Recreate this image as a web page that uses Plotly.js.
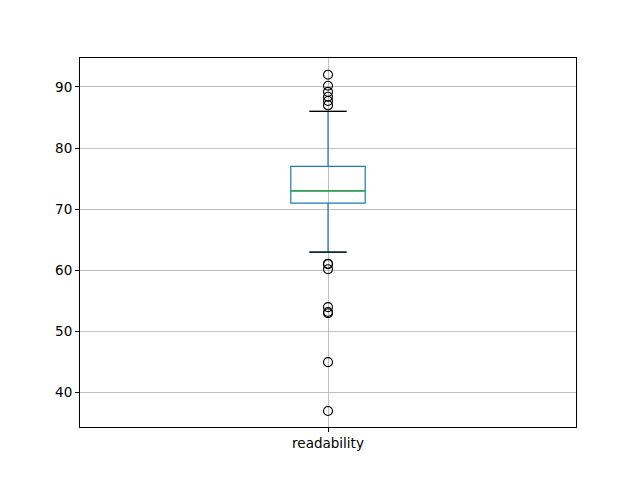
<!DOCTYPE html>
<html><head><meta charset="utf-8">
<script src="https://cdn.plot.ly/plotly-3.0.1.min.js"></script>
<style>body{margin:0;background:#fff}#c{width:640px;height:480px}</style>
</head><body><div id="c"></div>
<script>
const category = ["readability"];
const q1 = [71];
const median = [73];
const q3 = [77];
const lowerWhisker = [63];
const upperWhisker = [86];
const outliers = [92, 90.2, 89.2, 88.4, 87.7, 87.0, 61.1, 61.0, 60.2, 54.0, 53.2, 53.0, 45, 37];

const pos = 1, halfBox = 0.075, halfCap = 0.0375;
const traces = [
  {type:'box', x:[pos], q1:q1, median:median, q3:q3, lowerfence:lowerWhisker, upperfence:upperWhisker,
   width:2*halfBox, whiskerwidth:0.5, line:{color:'#1f77b4', width:1.2}, fillcolor:'rgba(0,0,0,0)',
   boxpoints:false, hoverinfo:'skip', showlegend:false},
  {type:'scatter', mode:'lines', x:[pos-halfBox, pos+halfBox], y:[median[0], median[0]],
   line:{color:'#2ca02c', width:1.2}, showlegend:false, hoverinfo:'skip'},
  {type:'scatter', mode:'lines', x:[pos-halfCap, pos+halfCap, null, pos-halfCap, pos+halfCap],
   y:[lowerWhisker[0], lowerWhisker[0], null, upperWhisker[0], upperWhisker[0]],
   line:{color:'#000', width:1.2}, showlegend:false, hoverinfo:'skip'},
  {type:'scatter', mode:'markers', x:outliers.map(()=>pos), y:outliers,
   marker:{symbol:'circle-open', size:9, color:'#000', line:{width:1.1, color:'#000'}},
   showlegend:false, hoverinfo:'skip'}
];
const layout = {
  width:640, height:480, paper_bgcolor:'#fff', plot_bgcolor:'#fff',
  margin:{l:80, r:64, t:58, b:53},
  font:{family:'DejaVu Sans', size:14, color:'#000'},
  showlegend:false,
  xaxis:{range:[0.5,1.5], tickvals:[pos], ticktext:category, showgrid:true, gridcolor:'#b0b0b0', gridwidth:0.8,
         zeroline:false, showline:true, mirror:true, linecolor:'#000', linewidth:1,
         ticks:'outside', ticklen:4, tickcolor:'#000', tickwidth:1, tickfont:{size:13.5}},
  yaxis:{range:[34.39, 94.74], tickvals:[40,50,60,70,80,90], showgrid:true, gridcolor:'#b0b0b0', gridwidth:0.8,
         zeroline:false, showline:true, mirror:true, linecolor:'#000', linewidth:1,
         ticks:'outside', ticklen:4, tickcolor:'#000', tickwidth:1, tickfont:{size:13.5}}
};
Plotly.newPlot('c', traces, layout, {staticPlot:true});
</script></body></html>
